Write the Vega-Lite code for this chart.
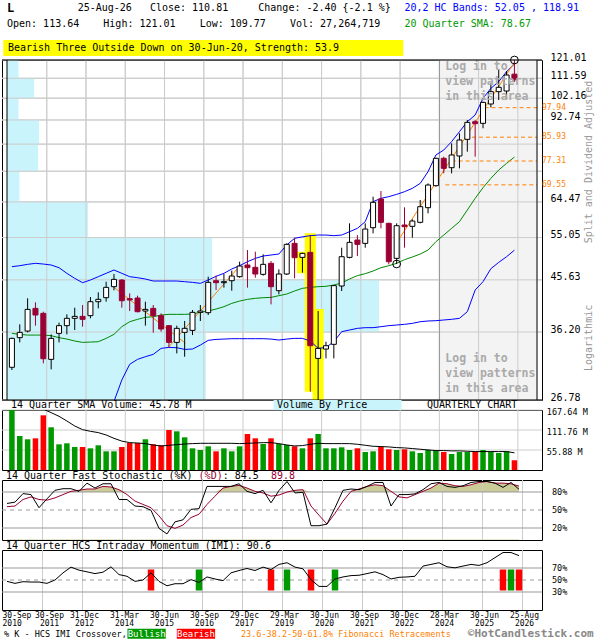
{
  "$schema": "https://vega.github.io/schema/vega-lite/v6.json",
  "background": "white",
  "padding": {"left": 1, "top": 1, "right": 0, "bottom": 0},
  "config": {
    "font": "DejaVu Sans Mono",
    "view": {"stroke": "black", "strokeWidth": 1},
    "text": {"font": "DejaVu Sans Mono", "fontSize": 10, "color": "black"},
    "axis": {"labelFont": "DejaVu Sans Mono", "labelColor": "black", "grid": false, "ticks": false, "domain": false}
  },
  "datasets": {
    "one": [{"k": 0}],
    "xt": [{"x": 4.4375}, {"x": 9.4375}, {"x": 14.4375}, {"x": 19.4375}, {"x": 24.4375}, {"x": 29.4375}, {"x": 34.4375}, {"x": 39.4375}, {"x": 44.4375}, {"x": 49.4375}, {"x": 54.4375}, {"x": 59.4375}, {"x": 64.4375}],
    "yt": [{"v": 26.78}, {"v": 36.2}, {"v": 45.63}, {"v": 55.05}, {"v": 64.47}, {"v": 73.89}, {"v": 83.32}, {"v": 92.74}, {"v": 102.16}, {"v": 111.59}, {"v": 121.01}],
    "vbp": [
      {"lo": 26.78, "hi": 36.2, "x0": -0.625, "w": 24.71}, {"lo": 36.2, "hi": 45.63, "x0": -0.625, "w": 46.75}, {"lo": 45.63, "hi": 55.05, "x0": -0.625, "w": 25.5},
      {"lo": 55.05, "hi": 64.47, "x0": -0.625, "w": 9.71}, {"lo": 64.47, "hi": 73.89, "x0": -0.625, "w": 0.96}, {"lo": 73.89, "hi": 83.32, "x0": -0.625, "w": 3.34},
      {"lo": 83.32, "hi": 92.74, "x0": -0.625, "w": 3.46}, {"lo": 92.74, "hi": 102.16, "x0": -0.625, "w": 0.84}, {"lo": 102.16, "hi": 111.59, "x0": -0.625, "w": 2.84},
      {"lo": 111.59, "hi": 121.01, "x0": -0.625, "w": 0.84}
    ],
    "fib": [
      {"p": 97.94, "i": 60.2}, {"p": 97.94, "i": 66.875},
      {"p": 85.93, "i": 57.7}, {"p": 85.93, "i": 66.875},
      {"p": 77.31, "i": 56.0}, {"p": 77.31, "i": 66.875},
      {"p": 69.55, "i": 55.2}, {"p": 69.55, "i": 66.875}
    ],
    "fibl": [{"p": 97.94}, {"p": 85.93}, {"p": 77.31}, {"p": 69.55}],
    "tr": [
      {"g": 1, "i": 12.9, "p": 44.27}, {"g": 1, "i": 22.1, "p": 34.45},
      {"g": 2, "i": 20, "p": 33.92}, {"g": 2, "i": 29, "p": 48.5},
      {"g": 3, "i": 49, "p": 53.81}, {"g": 3, "i": 64, "p": 119.78}
    ],
    "hl": [{"i": 37, "lo": 46.98, "hi": 51.7}, {"i": 38, "lo": 27.78, "hi": 56.1}, {"i": 39, "lo": 26.55, "hi": 40.1}],
    "circ": [{"i": 64, "p": 121.01}, {"i": 49, "p": 48.96}],
    "xo": [
      {"i": 18, "s": "Bearish"}, {"i": 24, "s": "Bullish"}, {"i": 33, "s": "Bearish"}, {"i": 35, "s": "Bullish"},
      {"i": 38, "s": "Bearish"}, {"i": 41, "s": "Bullish"}, {"i": 62, "s": "Bearish"}, {"i": 63, "s": "Bullish"}, {"i": 64, "s": "Bearish"}
    ],
    "q": [
      {"i": 0, "o": 30.96, "h": 35.31, "l": 30.59, "c": 35.2, "v": 167.6, "vs": null, "up": 48.38, "lb": null, "sma": 35.99, "k": 60.9, "d": 55.5, "df": 80, "imi": 47.7},
      {"i": 1, "o": 35.31, "h": 37.46, "l": 34.58, "c": 36.15, "v": 95, "vs": null, "up": 48.59, "lb": null, "sma": 35.83, "k": 63.1, "d": 56.6, "df": 80, "imi": 44.4},
      {"i": 2, "o": 36.36, "h": 42.04, "l": 36.15, "c": 40.03, "v": 85.8, "vs": null, "up": 48.88, "lb": null, "sma": 35.72, "k": 77.3, "d": 67.5, "df": 80, "imi": 47.2},
      {"i": 3, "o": 40.21, "h": 41.3, "l": 37.24, "c": 39.04, "v": 88.5, "vs": null, "up": 49.1, "lb": null, "sma": 35.72, "k": 75.7, "d": 71.9, "df": 80, "imi": 46.6},
      {"i": 4, "o": 39.33, "h": 39.62, "l": 31.51, "c": 32.16, "v": 152.8, "vs": 170, "up": 48.95, "lb": null, "sma": 35.72, "k": 53.8, "d": 67.5, "df": 80, "imi": 46.6},
      {"i": 5, "o": 32.07, "h": 35.83, "l": 30.68, "c": 35.2, "v": 119.3, "vs": 160.3, "up": 48.74, "lb": null, "sma": 35.62, "k": 68.6, "d": 66.4, "df": 80, "imi": 44.4},
      {"i": 6, "o": 35.99, "h": 37.74, "l": 34.58, "c": 37.24, "v": 71.8, "vs": 150, "up": 48.16, "lb": null, "sma": 35.31, "k": 82.8, "d": 70.2, "df": 80, "imi": 50},
      {"i": 7, "o": 37.24, "h": 39.16, "l": 35.83, "c": 38.47, "v": 74.6, "vs": 136.9, "up": 46.97, "lb": null, "sma": 35.09, "k": 85.5, "d": 75.7, "df": 80, "imi": 61.9},
      {"i": 8, "o": 38.47, "h": 40.33, "l": 36.53, "c": 38.81, "v": 64.2, "vs": 122.9, "up": 45.94, "lb": null, "sma": 34.79, "k": 85.5, "d": 81.1, "df": 81.1, "imi": 71.5},
      {"i": 9, "o": 38.81, "h": 40.81, "l": 37.07, "c": 38.3, "v": 64.2, "vs": 112.8, "up": 45.06, "lb": null, "sma": 34.58, "k": 81.1, "d": 82.8, "df": 82.8, "imi": 66.4},
      {"i": 10, "o": 38.93, "h": 42.29, "l": 38.47, "c": 41.42, "v": 60.6, "vs": 108.1, "up": 45.6, "lb": null, "sma": 34.63, "k": 94.8, "d": 85, "df": 85, "imi": 63.6},
      {"i": 11, "o": 41.42, "h": 43.17, "l": 40.21, "c": 41.85, "v": 69, "vs": 104.5, "up": 46.28, "lb": null, "sma": 34.68, "k": 86.6, "d": 85, "df": 85, "imi": 60.7},
      {"i": 12, "o": 42.16, "h": 45.26, "l": 41.42, "c": 44.14, "v": 52.2, "vs": 97.8, "up": 46.97, "lb": null, "sma": 35.2, "k": 93.7, "d": 89.3, "df": 89.3, "imi": 63},
      {"i": 13, "o": 44.27, "h": 46.83, "l": 43.56, "c": 45.73, "v": 52.2, "vs": 88.5, "up": 47.67, "lb": 26.6, "sma": 35.83, "k": 93.7, "d": 88.3, "df": 88.3, "imi": 72},
      {"i": 14, "o": 45.6, "h": 45.75, "l": 40.33, "c": 41.6, "v": 64.2, "vs": 80.7, "up": 46.97, "lb": 29.27, "sma": 37.07, "k": 67.5, "d": 83.9, "df": 83.9, "imi": 59},
      {"i": 15, "o": 41.98, "h": 42.98, "l": 39.74, "c": 41.73, "v": 75.4, "vs": 76.5, "up": 46.28, "lb": 31.37, "sma": 37.9, "k": 67.5, "d": 75.7, "df": 80, "imi": 56.2},
      {"i": 16, "o": 42.1, "h": 42.54, "l": 39.51, "c": 39.62, "v": 75.4, "vs": 75.4, "up": 46.07, "lb": 32.07, "sma": 38.3, "k": 56.6, "d": 64.8, "df": 80, "imi": 47.7},
      {"i": 17, "o": 39.74, "h": 41.42, "l": 37.24, "c": 40.03, "v": 85.8, "vs": 73.7, "up": 45.8, "lb": 32.45, "sma": 38.64, "k": 55.5, "d": 59.3, "df": 80, "imi": 50},
      {"i": 18, "o": 40.21, "h": 40.81, "l": 36.1, "c": 38.93, "v": 71.8, "vs": 69.8, "up": 45.4, "lb": 32.79, "sma": 38.75, "k": 49.5, "d": 53.8, "df": 80, "imi": 61.9},
      {"i": 19, "o": 38.93, "h": 39.33, "l": 36.26, "c": 36.69, "v": 69, "vs": 67, "up": 45.4, "lb": 33.67, "sma": 39.04, "k": 19.4, "d": 40.2, "df": 80, "imi": 47.7},
      {"i": 20, "o": 37.24, "h": 37.35, "l": 33.77, "c": 34.58, "v": 111.7, "vs": 69, "up": 45.4, "lb": 33.82, "sma": 39.16, "k": 10.1, "d": 23.8, "df": 80, "imi": 40.4},
      {"i": 21, "o": 34.58, "h": 37.24, "l": 32.93, "c": 36.8, "v": 108.1, "vs": 70.9, "up": 45.4, "lb": 33.77, "sma": 39.16, "k": 30.3, "d": 19.4, "df": 80, "imi": 43.8},
      {"i": 22, "o": 36.15, "h": 38.02, "l": 32.45, "c": 36.8, "v": 91.3, "vs": 72.6, "up": 45.26, "lb": 33.52, "sma": 39.16, "k": 33.6, "d": 24.9, "df": 80, "imi": 43.8},
      {"i": 23, "o": 36.47, "h": 39.92, "l": 35.72, "c": 39.51, "v": 60.6, "vs": 73.7, "up": 45.13, "lb": 33.57, "sma": 39.22, "k": 51.1, "d": 37.4, "df": 80, "imi": 50.6},
      {"i": 24, "o": 39.51, "h": 40.81, "l": 38.02, "c": 39.74, "v": 55.9, "vs": 74.6, "up": 44.93, "lb": 34.17, "sma": 39.51, "k": 52.2, "d": 42.9, "df": 80, "imi": 46},
      {"i": 25, "o": 39.45, "h": 46.28, "l": 39.04, "c": 45.13, "v": 66.2, "vs": 74.6, "up": 45.6, "lb": 34.89, "sma": 39.74, "k": 89.3, "d": 59.3, "df": 80, "imi": 55.1},
      {"i": 26, "o": 45.46, "h": 46.49, "l": 43.62, "c": 45.06, "v": 52.2, "vs": 74.6, "up": 46.35, "lb": 35.04, "sma": 40.09, "k": 89.3, "d": 73, "df": 80, "imi": 51.7},
      {"i": 27, "o": 45.06, "h": 46.83, "l": 44.08, "c": 45.26, "v": 60.6, "vs": 74.6, "up": 46.97, "lb": 35.09, "sma": 40.51, "k": 89.3, "d": 86.6, "df": 86.6, "imi": 48.9},
      {"i": 28, "o": 45.46, "h": 47.53, "l": 43.49, "c": 46.42, "v": 52.2, "vs": 74.6, "up": 47.88, "lb": 35.15, "sma": 41.11, "k": 89.3, "d": 89.3, "df": 89.3, "imi": 61.9},
      {"i": 29, "o": 46.28, "h": 49.46, "l": 46.07, "c": 48.52, "v": 66.2, "vs": 73.7, "up": 48.59, "lb": 35.15, "sma": 41.54, "k": 93.7, "d": 91, "df": 91, "imi": 65.8},
      {"i": 30, "o": 48.74, "h": 52.09, "l": 44.08, "c": 48.16, "v": 100.6, "vs": 74.6, "up": 49.46, "lb": 35.15, "sma": 41.85, "k": 81.1, "d": 86.6, "df": 86.6, "imi": 69.2},
      {"i": 31, "o": 48.24, "h": 51.71, "l": 46.07, "c": 46.83, "v": 88.5, "vs": 75.5, "up": 50.2, "lb": 35.15, "sma": 42.04, "k": 77.3, "d": 81.1, "df": 81.1, "imi": 65.8},
      {"i": 32, "o": 46.76, "h": 51.1, "l": 46.49, "c": 48.88, "v": 72.6, "vs": 76.4, "up": 50.72, "lb": 35.15, "sma": 42.16, "k": 82.8, "d": 78.4, "df": 80, "imi": 71.5},
      {"i": 33, "o": 49.1, "h": 49.61, "l": 40.93, "c": 44.27, "v": 88.5, "vs": 76.4, "up": 50.95, "lb": 35.09, "sma": 42.22, "k": 62, "d": 73, "df": 80, "imi": 67.5},
      {"i": 34, "o": 43.49, "h": 47.81, "l": 42.79, "c": 46.83, "v": 72.6, "vs": 73.7, "up": 51.17, "lb": 34.94, "sma": 42.54, "k": 82.5, "d": 75, "df": 80, "imi": 76},
      {"i": 35, "o": 46.83, "h": 53.65, "l": 46.62, "c": 53.42, "v": 69.8, "vs": 70, "up": 53.26, "lb": 35.09, "sma": 42.85, "k": 97.5, "d": 80, "df": 80, "imi": 78.8},
      {"i": 36, "o": 53.65, "h": 55.02, "l": 45.94, "c": 50.35, "v": 66.2, "vs": 67.2, "up": 54.86, "lb": 35.2, "sma": 43.43, "k": 78.4, "d": 82.8, "df": 82.8, "imi": 71.5},
      {"i": 37, "o": 50.42, "h": 51.47, "l": 47.11, "c": 51.32, "v": 60.6, "vs": 68.2, "up": 55.23, "lb": 35.2, "sma": 43.95, "k": 79.5, "d": 83.9, "df": 83.9, "imi": 68.6},
      {"i": 38, "o": 51.55, "h": 55.67, "l": 27.79, "c": 34.07, "v": 88.5, "vs": 71.9, "up": 55.51, "lb": 34.79, "sma": 44.14, "k": 23.8, "d": 56.6, "df": 80, "imi": 50.6},
      {"i": 39, "o": 32.21, "h": 39.74, "l": 26.78, "c": 33.67, "v": 100.6, "vs": 74.6, "up": 55.67, "lb": 33.67, "sma": 44.27, "k": 23.8, "d": 41.3, "df": 80, "imi": 39.3},
      {"i": 40, "o": 33.57, "h": 34.68, "l": 32.21, "c": 34.07, "v": 60.6, "vs": 73.7, "up": 55.67, "lb": 33.82, "sma": 44.34, "k": 26.5, "d": 26.5, "df": 80, "imi": 39.3},
      {"i": 41, "o": 34.28, "h": 44.6, "l": 32.21, "c": 44.47, "v": 60.6, "vs": 73.7, "up": 55.51, "lb": 34.68, "sma": 44.6, "k": 53.8, "d": 44.5, "df": 80, "imi": 51.7},
      {"i": 42, "o": 44.4, "h": 52.63, "l": 43.43, "c": 50.57, "v": 63.4, "vs": 73.7, "up": 55.67, "lb": 36.26, "sma": 45, "k": 82.8, "d": 64.8, "df": 80, "imi": 55.1},
      {"i": 43, "o": 50.42, "h": 58.63, "l": 50.2, "c": 53.89, "v": 55.9, "vs": 73.7, "up": 56.5, "lb": 36.53, "sma": 45.8, "k": 85, "d": 81.1, "df": 81.1, "imi": 57.3},
      {"i": 44, "o": 54.45, "h": 55.67, "l": 50.72, "c": 53.42, "v": 60.6, "vs": 71.9, "up": 57.34, "lb": 36.8, "sma": 46.49, "k": 83.9, "d": 85, "df": 85, "imi": 57.9},
      {"i": 45, "o": 53.65, "h": 58.63, "l": 52.63, "c": 57.17, "v": 50.3, "vs": 69.1, "up": 59.07, "lb": 36.91, "sma": 46.9, "k": 89.3, "d": 89.3, "df": 89.3, "imi": 60.7},
      {"i": 46, "o": 57.51, "h": 66, "l": 56.09, "c": 64.36, "v": 52.2, "vs": 66.3, "up": 64.55, "lb": 36.91, "sma": 47.46, "k": 95.9, "d": 92.1, "df": 92.1, "imi": 63.6},
      {"i": 47, "o": 65.32, "h": 67.67, "l": 57.34, "c": 58.9, "v": 64.2, "vs": 65.4, "up": 65.51, "lb": 37.07, "sma": 48.16, "k": 95.9, "d": 90.4, "df": 90.4, "imi": 59},
      {"i": 48, "o": 58.63, "h": 58.8, "l": 48.88, "c": 49.46, "v": 57.8, "vs": 64.5, "up": 66, "lb": 37.24, "sma": 48.59, "k": 56.6, "d": 81.1, "df": 81.1, "imi": 51.7},
      {"i": 49, "o": 50.2, "h": 58.63, "l": 48.96, "c": 58.03, "v": 55.9, "vs": 62.6, "up": 66.68, "lb": 37.35, "sma": 49.1, "k": 75.7, "d": 71.9, "df": 80, "imi": 54.5},
      {"i": 50, "o": 58.2, "h": 62.95, "l": 52.63, "c": 57.77, "v": 57.8, "vs": 61.7, "up": 67.47, "lb": 37.46, "sma": 49.9, "k": 75.7, "d": 70.2, "df": 80, "imi": 55.1},
      {"i": 51, "o": 57.86, "h": 59.68, "l": 55.02, "c": 59.24, "v": 52.2, "vs": 59.9, "up": 68.48, "lb": 37.62, "sma": 50.5, "k": 76.8, "d": 75.7, "df": 80, "imi": 56.2},
      {"i": 52, "o": 58.9, "h": 65.03, "l": 58.63, "c": 63.13, "v": 47.5, "vs": 58, "up": 70.01, "lb": 37.9, "sma": 51.17, "k": 83.9, "d": 81.1, "df": 81.1, "imi": 73.2},
      {"i": 53, "o": 62.85, "h": 70.01, "l": 61.29, "c": 69.5, "v": 55.9, "vs": 56.1, "up": 73.73, "lb": 38.02, "sma": 52.09, "k": 93.7, "d": 86.6, "df": 86.6, "imi": 76},
      {"i": 54, "o": 69.29, "h": 78.43, "l": 68.99, "c": 78.23, "v": 54.2, "vs": 54.3, "up": 79.4, "lb": 38.07, "sma": 54.05, "k": 95.9, "d": 94.8, "df": 94.8, "imi": 78.8},
      {"i": 55, "o": 78.23, "h": 78.81, "l": 73.19, "c": 74.83, "v": 50.3, "vs": 54.3, "up": 81.18, "lb": 38.19, "sma": 55.67, "k": 89.3, "d": 93.7, "df": 93.7, "imi": 72},
      {"i": 56, "o": 75.05, "h": 83.61, "l": 73.19, "c": 79.4, "v": 44.7, "vs": 53.4, "up": 84.24, "lb": 38.3, "sma": 57.34, "k": 87.7, "d": 90.4, "df": 90.4, "imi": 70.3},
      {"i": 57, "o": 79.05, "h": 87.41, "l": 74.83, "c": 84.86, "v": 50.3, "vs": 53.4, "up": 88.05, "lb": 38.47, "sma": 59.07, "k": 90.4, "d": 89.3, "df": 89.3, "imi": 73.2},
      {"i": 58, "o": 85.11, "h": 92.73, "l": 80.58, "c": 91.77, "v": 50.3, "vs": 52.4, "up": 92.04, "lb": 39.62, "sma": 62.21, "k": 95.9, "d": 92.1, "df": 92.1, "imi": 76},
      {"i": 59, "o": 92.04, "h": 92.73, "l": 78.81, "c": 91.23, "v": 50.3, "vs": 51.5, "up": 94.81, "lb": 43.62, "sma": 65.51, "k": 97.5, "d": 95.9, "df": 95.9, "imi": 74.3},
      {"i": 60, "o": 91.37, "h": 100.58, "l": 89.37, "c": 100.28, "v": 55.9, "vs": 51.5, "up": 102.08, "lb": 45.26, "sma": 68.68, "k": 97.5, "d": 97.5, "df": 97.5, "imi": 78.8},
      {"i": 61, "o": 99.55, "h": 109.11, "l": 98.08, "c": 105.15, "v": 50.3, "vs": 51.5, "up": 106.72, "lb": 47.95, "sma": 71.58, "k": 94.8, "d": 94.8, "df": 94.8, "imi": 87.3},
      {"i": 62, "o": 105.15, "h": 115.76, "l": 101.33, "c": 107.19, "v": 47.5, "vs": 51.5, "up": 109.92, "lb": 49.31, "sma": 74.28, "k": 87.7, "d": 94.8, "df": 94.8, "imi": 95.8},
      {"i": 63, "o": 105.46, "h": 115.25, "l": 101.78, "c": 113.21, "v": 52.2, "vs": 51.5, "up": 114.91, "lb": 50.57, "sma": 76.51, "k": 95.9, "d": 93.7, "df": 93.7, "imi": 95.8},
      {"i": 64, "o": 113.64, "h": 121.01, "l": 109.77, "c": 110.81, "v": 27.26, "vs": 48, "up": 118.91, "lb": 52.05, "sma": 78.67, "k": 84.5, "d": 89.8, "df": 89.8, "imi": 90.6}
    ]
  },
  "vconcat": [
    {
      "width": 540, "height": 340,
      "layer": [
        {
          "data": {"name": "xt"},
          "mark": {"type": "rule", "color": "#cccccc", "strokeWidth": 1},
          "encoding": {"x": {"field": "x", "type": "quantitative", "scale": {"domain": [-0.625, 66.875], "nice": false, "zero": false}, "axis": null}}
        },
        {
          "data": {"name": "yt"},
          "mark": {"type": "rule", "color": "#cccccc", "strokeWidth": 1},
          "encoding": {
            "y": {
              "field": "v", "type": "quantitative",
              "scale": {"type": "log", "domain": [26.78, 121.01], "nice": false},
              "axis": {"orient": "right", "title": null, "values": [26.78, 36.2, 45.63, 55.05, 64.47, 73.89, 83.32, 92.74, 102.16, 111.59, 121.01], "labelExpr": "datum.value > 70 && datum.value < 90 ? '' : format(datum.value, '.2f')", "labelFontSize": 10, "labelPadding": 8, "labelBaseline": "alphabetic", "labelOverlap": false, "labelBound": false, "grid": false, "ticks": false, "domain": false}
            }
          }
        },
        {
          "data": {"name": "one"},
          "mark": {"type": "tick", "orient": "vertical", "size": 340, "thickness": 99.3, "color": "#f3f3f3", "opacity": 1},
          "encoding": {
            "x": {"datum": 60.67, "type": "quantitative", "axis": null},
            "y": {"datum": 56.93, "type": "quantitative"}
          }
        },
        {
          "data": {"name": "vbp"},
          "mark": {"type": "rect", "color": "#c9f4fb"},
          "encoding": {
            "x": {"field": "x0", "type": "quantitative", "axis": null},
            "x2": {"field": "w"},
            "y": {"field": "lo", "type": "quantitative"},
            "y2": {"field": "hi"}
          }
        },
        {
          "data": {"name": "xt"},
          "mark": {"type": "rule", "color": "#cccccc", "strokeWidth": 1},
          "encoding": {"x": {"field": "x", "type": "quantitative", "axis": null}}
        },
        {
          "data": {"name": "yt"},
          "mark": {"type": "rule", "color": "#cccccc", "strokeWidth": 1},
          "encoding": {"y": {"field": "v", "type": "quantitative"}}
        },
        {
          "data": {"name": "one"},
          "mark": {"type": "rule", "color": "#999999", "strokeWidth": 1},
          "encoding": {"x": {"datum": 54.46, "type": "quantitative", "axis": null}}
        },
        {
          "data": {"name": "hl"},
          "mark": {"type": "rule", "strokeWidth": 11, "color": "#ffff00", "strokeCap": "butt"},
          "encoding": {
            "x": {"field": "i", "type": "quantitative", "axis": null},
            "y": {"field": "lo", "type": "quantitative"},
            "y2": {"field": "hi"}
          }
        },
        {
          "data": {"name": "q"},
          "mark": {"type": "line", "color": "#0000ff", "strokeWidth": 1, "clip": true},
          "encoding": {
            "x": {"field": "i", "type": "quantitative", "axis": null},
            "y": {"field": "up", "type": "quantitative"}
          }
        },
        {
          "data": {"name": "q"},
          "mark": {"type": "line", "color": "#0000ff", "strokeWidth": 1, "clip": true},
          "encoding": {
            "x": {"field": "i", "type": "quantitative", "axis": null},
            "y": {"field": "lb", "type": "quantitative"}
          }
        },
        {
          "data": {"name": "q"},
          "mark": {"type": "line", "color": "#008800", "strokeWidth": 1, "clip": true},
          "encoding": {
            "x": {"field": "i", "type": "quantitative", "axis": null},
            "y": {"field": "sma", "type": "quantitative"}
          }
        },
        {
          "data": {"name": "fib"},
          "mark": {"type": "line", "color": "#ff8000", "strokeWidth": 1, "strokeDash": [4, 3]},
          "encoding": {
            "x": {"field": "i", "type": "quantitative", "axis": null},
            "y": {"field": "p", "type": "quantitative"},
            "detail": {"field": "p", "type": "nominal"}
          }
        },
        {
          "data": {"name": "fibl"},
          "mark": {"type": "text", "align": "left", "baseline": "middle", "color": "#ff8000", "fontSize": 8},
          "encoding": {
            "x": {"datum": 67.5, "type": "quantitative", "axis": null},
            "y": {"field": "p", "type": "quantitative"},
            "text": {"field": "p", "type": "quantitative", "format": ".2f"}
          }
        },
        {
          "data": {"name": "tr"},
          "mark": {"type": "line", "color": "#ff8000", "strokeWidth": 1},
          "encoding": {
            "x": {"field": "i", "type": "quantitative", "axis": null},
            "y": {"field": "p", "type": "quantitative"},
            "detail": {"field": "g", "type": "nominal"}
          }
        },
        {
          "data": {"name": "q"},
          "mark": {"type": "rule", "strokeWidth": 1},
          "encoding": {
            "x": {"field": "i", "type": "quantitative", "axis": null},
            "y": {"field": "l", "type": "quantitative"},
            "y2": {"field": "h"},
            "color": {"condition": {"test": "datum.c >= datum.o", "value": "black"}, "value": "#990033"}
          }
        },
        {
          "data": {"name": "q"},
          "mark": {"type": "bar", "width": 5, "strokeWidth": 1},
          "encoding": {
            "x": {"field": "i", "type": "quantitative", "axis": null},
            "y": {"field": "o", "type": "quantitative"},
            "y2": {"field": "c"},
            "fill": {"condition": {"test": "datum.c >= datum.o", "value": "white"}, "value": "#990033"},
            "stroke": {"condition": {"test": "datum.c >= datum.o", "value": "black"}, "value": "#990033"}
          }
        },
        {
          "data": {"name": "circ"},
          "mark": {"type": "point", "shape": "circle", "filled": false, "color": "black", "strokeWidth": 1, "size": 60, "opacity": 1},
          "encoding": {
            "x": {"field": "i", "type": "quantitative", "axis": null},
            "y": {"field": "p", "type": "quantitative"}
          }
        },
        {
          "data": {"name": "one"},
          "mark": {"type": "text", "align": "left", "baseline": "top", "fontSize": 11.5, "fontWeight": "bold", "color": "#aaaaaa", "lineHeight": 15},
          "encoding": {
            "x": {"datum": 55.2, "type": "quantitative", "axis": null},
            "y": {"datum": 120.5, "type": "quantitative"},
            "text": {"value": ["Log in to", "view patterns", "in this area"]}
          }
        },
        {
          "data": {"name": "one"},
          "mark": {"type": "text", "align": "left", "baseline": "top", "fontSize": 11.5, "fontWeight": "bold", "color": "#aaaaaa", "lineHeight": 15},
          "encoding": {
            "x": {"datum": 55.2, "type": "quantitative", "axis": null},
            "y": {"datum": 32.99, "type": "quantitative"},
            "text": {"value": ["Log in to", "view patterns", "in this area"]}
          }
        },
        {
          "data": {"name": "one"},
          "mark": {"type": "text", "angle": 270, "color": "#999999", "fontSize": 10, "baseline": "middle"},
          "encoding": {
            "x": {"datum": 73.5, "type": "quantitative", "axis": null},
            "y": {"datum": 76.96, "type": "quantitative"},
            "text": {"value": "Split and Dividend Adjusted"}
          }
        },
        {
          "data": {"name": "one"},
          "mark": {"type": "text", "angle": 270, "color": "#999999", "fontSize": 10, "baseline": "middle"},
          "encoding": {
            "x": {"datum": 73.5, "type": "quantitative", "axis": null},
            "y": {"datum": 35.27, "type": "quantitative"},
            "text": {"value": "Logarithmic"}
          }
        },
        {
          "data": {"values": [{"b": -0.625}, {"b": 66.875}]},
          "mark": {"type": "rule", "color": "black", "strokeWidth": 1},
          "encoding": {"x": {"field": "b", "type": "quantitative", "axis": null}}
        },
        {
          "data": {"values": [{"b": 26.78}, {"b": 121.01}]},
          "mark": {"type": "rule", "color": "black", "strokeWidth": 1},
          "encoding": {"y": {"field": "b", "type": "quantitative"}}
        },
        {
          "data": {"name": "one"},
          "mark": {"type": "text", "align": "left", "baseline": "middle", "fontSize": 12, "fontWeight": "bold"},
          "encoding": {
            "x": {"datum": -0.625, "type": "quantitative", "axis": null},
            "y": {"datum": 152.4, "type": "quantitative"},
            "text": {"value": "L"}
          }
        },
        {
          "data": {"name": "one"},
          "mark": {"type": "text", "align": "left", "baseline": "middle", "fontSize": 10},
          "encoding": {
            "x": {"datum": 8.375, "type": "quantitative", "axis": null},
            "y": {"datum": 152.4, "type": "quantitative"},
            "text": {"value": "25-Aug-26\u00a0\u00a0\u00a0Close: 110.81\u00a0\u00a0\u00a0\u00a0\u00a0Change: -2.40 {-2.1 %}"}
          }
        },
        {
          "data": {"name": "one"},
          "mark": {"type": "text", "align": "left", "baseline": "middle", "fontSize": 10},
          "encoding": {
            "x": {"datum": -0.625, "type": "quantitative", "axis": null},
            "y": {"datum": 141.97, "type": "quantitative"},
            "text": {"value": "\u00a0Open: 113.64\u00a0\u00a0\u00a0\u00a0High: 121.01\u00a0\u00a0\u00a0\u00a0Low: 109.77\u00a0\u00a0\u00a0\u00a0Vol: 27,264,719"}
          }
        },
        {
          "data": {"name": "one"},
          "mark": {"type": "text", "align": "left", "baseline": "middle", "fontSize": 10, "color": "#0000ff"},
          "encoding": {
            "x": {"datum": 50, "type": "quantitative", "axis": null},
            "y": {"datum": 152.4, "type": "quantitative"},
            "text": {"value": "20,2 HC Bands: 52.05 , 118.91"}
          }
        },
        {
          "data": {"name": "one"},
          "mark": {"type": "text", "align": "left", "baseline": "middle", "fontSize": 10, "color": "#009900"},
          "encoding": {
            "x": {"datum": 50, "type": "quantitative", "axis": null},
            "y": {"datum": 141.97, "type": "quantitative"},
            "text": {"value": "20 Quarter SMA: 78.67"}
          }
        },
        {
          "data": {"name": "one"},
          "mark": {"type": "tick", "orient": "horizontal", "size": 400, "thickness": 16, "color": "#ffff00", "opacity": 1},
          "encoding": {
            "x": {"datum": 24.375, "type": "quantitative", "axis": null},
            "y": {"datum": 127.63, "type": "quantitative"}
          }
        },
        {
          "data": {"name": "one"},
          "mark": {"type": "text", "align": "left", "baseline": "middle", "fontSize": 10},
          "encoding": {
            "x": {"datum": -0.5, "type": "quantitative", "axis": null},
            "y": {"datum": 127.63, "type": "quantitative"},
            "text": {"value": "Bearish Three Outside Down on 30-Jun-20, Strength: 53.9"}
          }
        }
      ]
    },
    {
      "width": 540, "height": 60,
      "layer": [
        {
          "data": {"name": "xt"},
          "mark": {"type": "rule", "color": "#cccccc", "strokeWidth": 1},
          "encoding": {"x": {"field": "x", "type": "quantitative", "scale": {"domain": [-0.625, 66.875], "nice": false, "zero": false}, "axis": null}}
        },
        {
          "data": {"values": [{"v": 55.88, "t": "55.88 M"}, {"v": 111.76, "t": "111.76 M"}, {"v": 167.64, "t": "167.64 M"}]},
          "mark": {"type": "rule", "color": "#cccccc", "strokeWidth": 1},
          "encoding": {
            "y": {"field": "v", "type": "quantitative", "scale": {"domain": [0, 167.64], "nice": false, "zero": false}, "axis": null}
          }
        },
        {
          "data": {"values": [{"v": 55.88, "t": "55.88 M"}, {"v": 111.76, "t": "111.76 M"}, {"v": 167.64, "t": "167.64 M"}]},
          "mark": {"type": "text", "align": "left", "baseline": "middle", "fontSize": 8.5, "dy": 1.5},
          "encoding": {
            "x": {"datum": 68.125, "type": "quantitative", "axis": null},
            "y": {"field": "v", "type": "quantitative"},
            "text": {"field": "t", "type": "nominal"}
          }
        },
        {
          "data": {"name": "q"},
          "mark": {"type": "bar", "width": 5.5},
          "encoding": {
            "x": {"field": "i", "type": "quantitative", "axis": null},
            "y": {"field": "v", "type": "quantitative", "stack": null},
            "color": {"condition": {"test": "datum.c >= datum.o", "value": "#009900"}, "value": "#ff0000"}
          }
        },
        {
          "data": {"name": "q"},
          "mark": {"type": "line", "color": "black", "strokeWidth": 1, "clip": true},
          "encoding": {
            "x": {"field": "i", "type": "quantitative", "axis": null},
            "y": {"field": "vs", "type": "quantitative"}
          }
        },
        {
          "data": {"name": "one"},
          "mark": {"type": "tick", "orient": "horizontal", "size": 128, "thickness": 10, "color": "#c9f4fb", "opacity": 1},
          "encoding": {
            "x": {"datum": 41.48, "type": "quantitative", "axis": null},
            "y": {"datum": 181.6, "type": "quantitative"}
          }
        },
        {
          "data": {"name": "one"},
          "mark": {"type": "text", "align": "left", "baseline": "middle", "fontSize": 10},
          "encoding": {
            "x": {"datum": -0.125, "type": "quantitative", "axis": null},
            "y": {"datum": 181.6, "type": "quantitative"},
            "text": {"value": "14 Quarter SMA Volume: 45.78 M"}
          }
        },
        {
          "data": {"name": "one"},
          "mark": {"type": "text", "align": "left", "baseline": "middle", "fontSize": 10},
          "encoding": {
            "x": {"datum": 33.75, "type": "quantitative", "axis": null},
            "y": {"datum": 181.6, "type": "quantitative"},
            "text": {"value": "Volume By Price"}
          }
        },
        {
          "data": {"name": "one"},
          "mark": {"type": "text", "align": "right", "baseline": "middle", "fontSize": 10},
          "encoding": {
            "x": {"datum": 64.375, "type": "quantitative", "axis": null},
            "y": {"datum": 181.6, "type": "quantitative"},
            "text": {"value": "QUARTERLY CHART"}
          }
        }
      ]
    },
    {
      "width": 540, "height": 60,
      "layer": [
        {
          "data": {"name": "q"},
          "mark": {"type": "area", "color": "#cccc99", "opacity": 1},
          "encoding": {
            "x": {"field": "i", "type": "quantitative", "scale": {"domain": [-0.625, 66.875], "nice": false, "zero": false}, "axis": null},
            "y": {"field": "df", "type": "quantitative", "scale": {"domain": [0, 100], "nice": false, "zero": false}, "axis": null, "stack": null}
          }
        },
        {
          "data": {"name": "one"},
          "mark": {"type": "tick", "orient": "horizontal", "size": 538, "thickness": 47.4, "color": "white", "opacity": 1},
          "encoding": {
            "x": {"datum": 33.125, "type": "quantitative", "axis": null},
            "y": {"datum": 40.5, "type": "quantitative"}
          }
        },
        {
          "data": {"name": "xt"},
          "mark": {"type": "rule", "color": "#cccccc", "strokeWidth": 1},
          "encoding": {"x": {"field": "x", "type": "quantitative", "axis": null}}
        },
        {
          "data": {"values": [{"v": 20}, {"v": 80}]},
          "mark": {"type": "rule", "color": "#999999", "strokeWidth": 1},
          "encoding": {"y": {"field": "v", "type": "quantitative"}}
        },
        {
          "data": {"values": [{"v": 50}]},
          "mark": {"type": "rule", "color": "#999999", "strokeWidth": 1, "strokeDash": [4, 4]},
          "encoding": {"y": {"field": "v", "type": "quantitative"}}
        },
        {
          "data": {"values": [{"v": 20, "t": "20%"}, {"v": 50, "t": "50%"}, {"v": 80, "t": "80%"}]},
          "mark": {"type": "text", "align": "left", "baseline": "middle", "fontSize": 8.5},
          "encoding": {
            "x": {"datum": 68.125, "type": "quantitative", "axis": null},
            "y": {"field": "v", "type": "quantitative"},
            "text": {"field": "t", "type": "nominal"}
          }
        },
        {
          "data": {"name": "q"},
          "mark": {"type": "line", "color": "#990033", "strokeWidth": 1},
          "encoding": {
            "x": {"field": "i", "type": "quantitative", "axis": null},
            "y": {"field": "d", "type": "quantitative"}
          }
        },
        {
          "data": {"name": "q"},
          "mark": {"type": "line", "color": "black", "strokeWidth": 1},
          "encoding": {
            "x": {"field": "i", "type": "quantitative", "axis": null},
            "y": {"field": "k", "type": "quantitative"}
          }
        },
        {
          "data": {"name": "one"},
          "mark": {"type": "text", "align": "left", "baseline": "middle", "fontSize": 10, "color": "black"},
          "encoding": {
            "x": {"datum": -0.125, "type": "quantitative", "axis": null},
            "y": {"datum": 106.7, "type": "quantitative"},
            "text": {"value": "14 Quarter Fast Stochastic (%K)"}
          }
        },
        {
          "data": {"name": "one"},
          "mark": {"type": "text", "align": "left", "baseline": "middle", "fontSize": 10, "color": "#990033"},
          "encoding": {
            "x": {"datum": 23.95, "type": "quantitative", "axis": null},
            "y": {"datum": 106.7, "type": "quantitative"},
            "text": {"value": "(%D)"}
          }
        },
        {
          "data": {"name": "one"},
          "mark": {"type": "text", "align": "left", "baseline": "middle", "fontSize": 10, "color": "black"},
          "encoding": {
            "x": {"datum": 26.96, "type": "quantitative", "axis": null},
            "y": {"datum": 106.7, "type": "quantitative"},
            "text": {"value": ": 84.5"}
          }
        },
        {
          "data": {"name": "one"},
          "mark": {"type": "text", "align": "left", "baseline": "middle", "fontSize": 10, "color": "#990033"},
          "encoding": {
            "x": {"datum": 32.99, "type": "quantitative", "axis": null},
            "y": {"datum": 106.7, "type": "quantitative"},
            "text": {"value": "89.8"}
          }
        }
      ]
    },
    {
      "width": 540, "height": 60,
      "layer": [
        {
          "data": {"name": "xt"},
          "mark": {"type": "rule", "color": "#cccccc", "strokeWidth": 1},
          "encoding": {
            "x": {
              "field": "x", "type": "quantitative",
              "scale": {"domain": [-0.625, 66.875], "nice": false, "zero": false},
              "axis": {"orient": "bottom", "title": null, "values": [-0.625, 5.25, 9.625, 14.625, 19.625, 24.625, 29.625, 34.625, 39.625, 44.625, 49.625, 54.625, 59.625, 64.625], "labelExpr": "[['30-Sep','2010'],['30-Sep','2011'],['31-Dec','2012'],['31-Mar','2014'],['30-Jun','2015'],['30-Sep','2016'],['29-Dec','2017'],['29-Mar','2019'],['30-Jun','2020'],['30-Sep','2021'],['30-Dec','2022'],['28-Mar','2024'],['30-Jun','2025'],['25-Aug','2026']][round((datum.value + 0.625) / 5)]", "labelFontSize": 8, "labelLineHeight": 8, "labelPadding": 1, "labelFlush": true, "labelOverlap": false, "labelBound": false, "grid": false, "ticks": false, "domain": false}
            }
          }
        },
        {
          "data": {"values": [{"v": 30}, {"v": 70}]},
          "mark": {"type": "rule", "color": "#999999", "strokeWidth": 1},
          "encoding": {
            "y": {"field": "v", "type": "quantitative", "scale": {"domain": [0, 100], "nice": false, "zero": false}, "axis": null}
          }
        },
        {
          "data": {"values": [{"v": 50}]},
          "mark": {"type": "rule", "color": "#999999", "strokeWidth": 1, "strokeDash": [4, 4]},
          "encoding": {"y": {"field": "v", "type": "quantitative"}}
        },
        {
          "data": {"values": [{"v": 30, "t": "30%"}, {"v": 50, "t": "50%"}, {"v": 70, "t": "70%"}]},
          "mark": {"type": "text", "align": "left", "baseline": "middle", "fontSize": 8.5},
          "encoding": {
            "x": {"datum": 68.125, "type": "quantitative"},
            "y": {"field": "v", "type": "quantitative"},
            "text": {"field": "t", "type": "nominal"}
          }
        },
        {
          "data": {"name": "xo"},
          "mark": {"type": "tick", "orient": "vertical", "size": 21, "thickness": 6.5, "opacity": 1},
          "encoding": {
            "x": {"field": "i", "type": "quantitative"},
            "y": {"datum": 50, "type": "quantitative"},
            "color": {"field": "s", "type": "nominal", "scale": {"domain": ["Bullish", "Bearish"], "range": ["#009900", "#ff0000"]}, "legend": null}
          }
        },
        {
          "data": {"name": "q"},
          "mark": {"type": "line", "color": "black", "strokeWidth": 1},
          "encoding": {
            "x": {"field": "i", "type": "quantitative"},
            "y": {"field": "imi", "type": "quantitative"}
          }
        },
        {
          "data": {"name": "one"},
          "mark": {"type": "text", "align": "left", "baseline": "middle", "fontSize": 10},
          "encoding": {
            "x": {"datum": -0.125, "type": "quantitative"},
            "y": {"datum": 106.7, "type": "quantitative"},
            "text": {"value": "14 Quarter HCS Intraday Momentum (IMI): 90.6"}
          }
        },
        {
          "data": {"name": "one"},
          "mark": {"type": "text", "align": "left", "baseline": "middle", "fontSize": 8.5},
          "encoding": {
            "x": {"datum": -0.375, "type": "quantitative"},
            "y": {"datum": -39.5, "type": "quantitative"},
            "text": {"value": "% K - HCS IMI Crossover,"}
          }
        },
        {
          "data": {"values": [{"s": "Bullish", "m": 17.45}, {"s": "Bearish", "m": 23.62}]},
          "mark": {"type": "tick", "orient": "horizontal", "size": 38.3, "thickness": 10, "opacity": 1},
          "encoding": {
            "x": {"field": "m", "type": "quantitative"},
            "y": {"datum": -39.5, "type": "quantitative"},
            "color": {"field": "s", "type": "nominal", "legend": null}
          }
        },
        {
          "data": {"values": [{"s": "Bullish", "m": 17.45}, {"s": "Bearish", "m": 23.62}]},
          "mark": {"type": "text", "align": "center", "baseline": "middle", "fontSize": 9, "color": "white"},
          "encoding": {
            "x": {"field": "m", "type": "quantitative"},
            "y": {"datum": -39.5, "type": "quantitative"},
            "text": {"field": "s", "type": "nominal"}
          }
        },
        {
          "data": {"name": "one"},
          "mark": {"type": "text", "align": "left", "baseline": "middle", "fontSize": 8.5, "color": "#ff8000"},
          "encoding": {
            "x": {"datum": 29.25, "type": "quantitative"},
            "y": {"datum": -39.5, "type": "quantitative"},
            "text": {"value": "23.6-38.2-50-61.8% Fibonacci Retracements"}
          }
        },
        {
          "data": {"name": "one"},
          "mark": {"type": "text", "align": "left", "baseline": "middle", "fontSize": 11, "fontWeight": "bold", "color": "#888888"},
          "encoding": {
            "x": {"datum": 57.6, "type": "quantitative"},
            "y": {"datum": -40.5, "type": "quantitative"},
            "text": {"value": "©HotCandlestick.com"}
          }
        }
      ]
    }
  ],
  "spacing": 10,
  "bounds": "flush"
}
